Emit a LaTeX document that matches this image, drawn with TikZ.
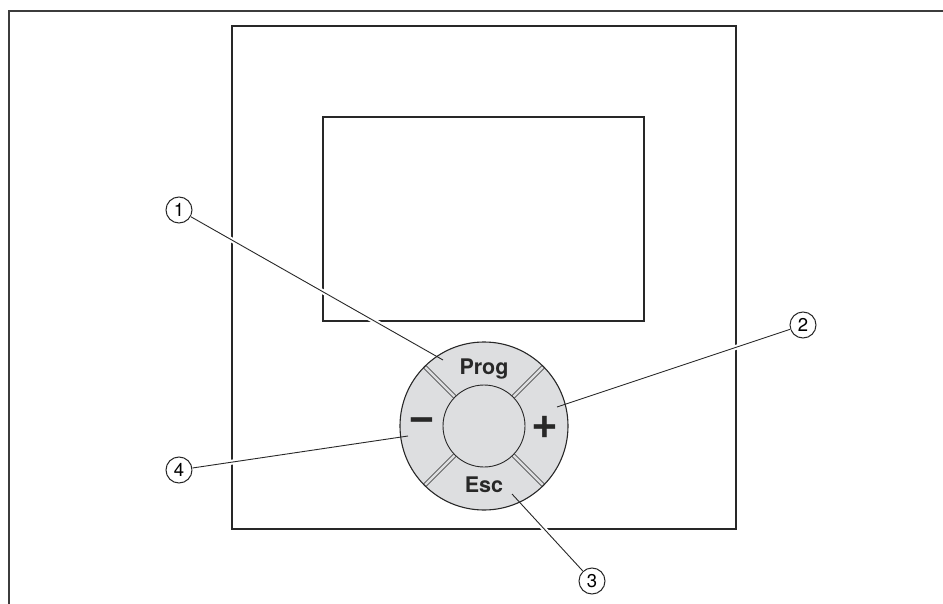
\documentclass[tikz,border=0pt]{standalone}
\usepackage{fontspec}
\setmainfont{TeX Gyre Heros}
\usetikzlibrary{calc}
\definecolor{btn}{RGB}{221,222,224}
\definecolor{frm}{RGB}{60,60,60}
\definecolor{ln}{RGB}{40,40,40}
\begin{document}
\begin{tikzpicture}[x=1pt,y=-1pt,
  num/.style={circle,draw=ln,line width=1pt,inner sep=0pt,minimum size=26pt,font=\fontsize{18.5}{18.5}\selectfont},
  lead/.style={draw=ln,line width=0.9pt},
  halo/.style={draw=white,line width=5pt},
  keytxt/.style={font=\fontsize{21.5}{21.5}\selectfont\bfseries,anchor=base,inner sep=0pt,text=ln},
  signtxt/.style={font=\fontsize{46}{46}\selectfont\bfseries,inner sep=0pt,text=ln},
  divider/.style={draw=ln,double=btn,double distance=2.6pt,line width=0.7pt}]
\useasboundingbox (0,0) rectangle (943,604);
% outer frame
\draw[frm,line width=2.4pt] (943,11) -- (9,11) -- (9,604);
% device
\draw[ln,line width=1.3pt] (232,26) rectangle (736,529);
\draw[ln,line width=1.3pt] (323,117) rectangle (644,321);
% numbers and leader end points
\node[num] (n1) at (179,210) {1};
\node[num] (n2) at (803,325) {2};
\node[num] (n3) at (592,581) {3};
\node[num] (n4) at (179,470) {4};
\coordinate (p1) at (443,360);
\coordinate (p2) at (557,407);
\coordinate (p3) at (512,494);
\coordinate (p4) at (408,436);
% halos
\path[halo] (n1) -- (p1);
\path[halo] (n2) -- (p2);
\path[halo] (n3) -- (p3);
\path[halo] (n4) -- (p4);
% button
\coordinate (c) at (484,426);
\fill[btn] (c) circle[radius=84];
\foreach \a in {45,135,225,315}
  \path[divider] ($(c)+(\a:41)$) -- ($(c)+(\a:83.5)$);
\draw[ln,line width=1.1pt] (c) circle[radius=84];
\draw[ln,line width=0.9pt,fill=btn] (c) circle[radius=41];
\node[keytxt] (prog) at (484,374) {Prog};
\node[keytxt] (esc) at (484,492) {Esc};
\node[signtxt] (minus) at (422,425) {−};
\node[signtxt] (plus) at (545,427) {+};
% leader lines
\path[lead] (n1) -- (p1);
\path[lead] (n2) -- (p2);
\path[lead] (n3) -- (p3);
\path[lead] (n4) -- (p4);
\end{tikzpicture}
\end{document}
